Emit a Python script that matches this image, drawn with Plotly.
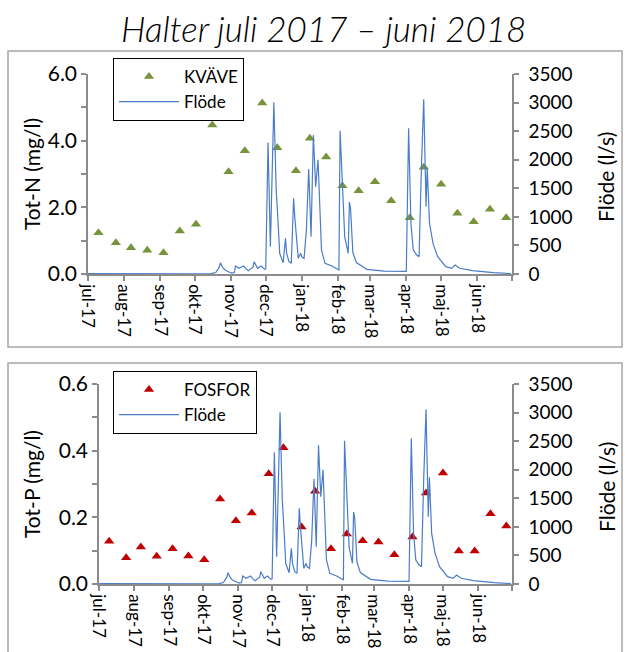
import plotly.graph_objects as go

# Provtagningsdatum (vattenprover)
sample_dates = ["2017-07-10", "2017-07-25", "2017-08-07", "2017-08-21", "2017-09-04",
                "2017-09-18", "2017-10-02", "2017-10-16", "2017-10-30", "2017-11-13",
                "2017-11-28", "2017-12-11", "2017-12-27", "2018-01-08", "2018-01-22",
                "2018-02-05", "2018-02-19", "2018-03-05", "2018-03-19", "2018-04-04",
                "2018-04-16", "2018-05-01", "2018-05-15", "2018-05-29", "2018-06-12",
                "2018-06-26"]

# Totalkväve (mg/l)
tot_n = [1.24, 0.94, 0.79, 0.71, 0.64, 1.29, 1.49, 4.47, 3.07, 3.70,
         5.13, 3.79, 3.10, 4.07, 3.51, 2.65, 2.50, 2.77, 2.20, 1.69,
         3.20, 2.69, 1.82, 1.57, 1.94, 1.69]

# Totalfosfor (mg/l)
tot_p = [0.128, 0.079, 0.111, 0.083, 0.106, 0.084, 0.073, 0.255, 0.190, 0.213,
         0.331, 0.409, 0.171, 0.278, 0.106, 0.150, 0.130, 0.126, 0.088, 0.141,
         0.273, 0.333, 0.099, 0.099, 0.211, 0.174]

# Vattenföring (l/s)
flow_dates = ["2017-07-01", "2017-07-15", "2017-08-01", "2017-09-01", "2017-10-01",
              "2017-10-15", "2017-10-19", "2017-10-22", "2017-10-23", "2017-10-25",
              "2017-10-27", "2017-10-30", "2017-11-02", "2017-11-04", "2017-11-05",
              "2017-11-08", "2017-11-12", "2017-11-14", "2017-11-16", "2017-11-20",
              "2017-11-21", "2017-11-24", "2017-11-27", "2017-11-30", "2017-12-01",
              "2017-12-03", "2017-12-05", "2017-12-08", "2017-12-10", "2017-12-12",
              "2017-12-13", "2017-12-16", "2017-12-18", "2017-12-19", "2017-12-21",
              "2017-12-23", "2017-12-25", "2017-12-26", "2017-12-28", "2017-12-29",
              "2017-12-31", "2018-01-01", "2018-01-03", "2018-01-05", "2018-01-07",
              "2018-01-09", "2018-01-11", "2018-01-13", "2018-01-15", "2018-01-17",
              "2018-01-18", "2018-01-21", "2018-01-27", "2018-02-02", "2018-02-03",
              "2018-02-07", "2018-02-10", "2018-02-11", "2018-02-12", "2018-02-14",
              "2018-02-17", "2018-02-26", "2018-03-13", "2018-04-01", "2018-04-03",
              "2018-04-05", "2018-04-07", "2018-04-10", "2018-04-12", "2018-04-14",
              "2018-04-16", "2018-04-18", "2018-04-19", "2018-04-21", "2018-04-24",
              "2018-04-28", "2018-05-05", "2018-05-10", "2018-05-13", "2018-05-17",
              "2018-05-28", "2018-06-15", "2018-06-30"]
flow = [8, 6, 4, 3, 3,
        6, 25, 120, 198, 110,
        70, 40, 15, 25, 140,
        99, 140, 90, 58, 120,
        216, 99, 140, 81, 90,
        2300, 478, 3004, 1470, 770,
        362, 198, 624, 362, 216,
        187, 1324, 1003, 478, 274,
        362, 300, 274, 770, 1838,
        653, 2430, 1528, 2000, 700,
        420, 187, 140, 70, 2508,
        650, 362, 1260, 1150, 380,
        200, 82, 52, 45, 2549,
        886, 420, 332, 303, 1850,
        3057, 1178, 1867, 886, 536,
        303, 128, 99, 158, 100,
        58, 23, 8]

month_ticks = ["2017-07-01", "2017-08-01", "2017-09-01", "2017-10-01", "2017-11-01",
               "2017-12-01", "2018-01-01", "2018-02-01", "2018-03-01", "2018-04-01",
               "2018-05-01", "2018-06-01", "2018-07-01"]
month_labels = ["jul-17", "aug-17", "sep-17", "okt-17", "nov-17", "dec-17",
                "jan-18", "feb-18", "mar-18", "apr-18", "maj-18", "jun-18", ""]

n_ticks = [0, 1, 2, 3, 4, 5, 6]
n_labels = ["0.0", "", "2.0", "", "4.0", "", "6.0"]
p_ticks = [0, 0.1, 0.2, 0.3, 0.4, 0.5, 0.6]
p_labels = ["0.0", "", "0.2", "", "0.4", "", "0.6"]
q_ticks = [0, 500, 1000, 1500, 2000, 2500, 3000, 3500]

W, H = 625, 652
FONT = "Lato"
AXIS_GREY = "#8c8c8c"
FLOW_BLUE = "#4a7cc8"


def px(x):
    return x / W


def py(y):
    return 1 - y / H


fig = go.Figure()

fig.add_trace(go.Scatter(x=sample_dates, y=tot_n, name="KVÄVE", mode="markers",
                         marker=dict(symbol="triangle-up", size=9, color="#77933C"),
                         xaxis="x", yaxis="y", legend="legend"))
fig.add_trace(go.Scatter(x=flow_dates, y=flow, name="Flöde", mode="lines",
                         line=dict(color=FLOW_BLUE, width=1.2),
                         xaxis="x", yaxis="y2", legend="legend"))
fig.add_trace(go.Scatter(x=sample_dates, y=tot_p, name="FOSFOR", mode="markers",
                         marker=dict(symbol="triangle-up", size=9, color="#C00000"),
                         xaxis="x2", yaxis="y3", legend="legend2"))
fig.add_trace(go.Scatter(x=flow_dates, y=flow, name="Flöde", mode="lines",
                         line=dict(color=FLOW_BLUE, width=1.2),
                         xaxis="x2", yaxis="y4", legend="legend2"))


def common(size):
    return dict(ticks="outside", ticklen=5, tickwidth=1.5, tickcolor=AXIS_GREY,
                showline=True, linecolor=AXIS_GREY, linewidth=1.5,
                showgrid=False, zeroline=False, automargin=False,
                tickfont=dict(family=FONT, size=size, color="black"))


def xaxis_cfg(domain, anchor):
    return dict(domain=domain, anchor=anchor, type="date",
                range=["2017-07-01", "2018-07-01"],
                tickmode="array", tickvals=month_ticks, ticktext=month_labels,
                tickangle=90, **common(17))


def yleft_cfg(domain, anchor, rng, vals, labels):
    return dict(domain=domain, anchor=anchor, range=rng,
                tickmode="array", tickvals=vals, ticktext=labels, **common(21))


def yright_cfg(overlay, anchor):
    return dict(overlaying=overlay, side="right", anchor=anchor, range=[0, 3500],
                tickmode="array", tickvals=q_ticks, ticklabelstandoff=6,
                **common(19))


top_y = [py(274), py(74)]
bot_y = [py(584), py(384)]

legend_cfg = dict(xanchor="left", yanchor="top", bgcolor="white",
                  bordercolor="black", borderwidth=1,
                  font=dict(family=FONT, size=17, color="black"),
                  itemwidth=60, tracegroupgap=0, entrywidth=130)

fig.update_layout(
    width=W, height=H,
    margin=dict(l=0, r=0, t=0, b=0, autoexpand=False),
    paper_bgcolor="white", plot_bgcolor="white",
    font=dict(family=FONT, size=19, color="black"),
    showlegend=True,
    xaxis=xaxis_cfg([px(88), px(512)], "y"),
    yaxis=yleft_cfg(top_y, "x", [0, 6], n_ticks, n_labels),
    yaxis2=yright_cfg("y", "x"),
    xaxis2=xaxis_cfg([px(99), px(512)], "y3"),
    yaxis3=yleft_cfg(bot_y, "x2", [0, 0.6], p_ticks, p_labels),
    yaxis4=yright_cfg("y3", "x2"),
    legend=dict(x=px(113), y=py(58), **legend_cfg),
    legend2=dict(x=px(113), y=py(371), **legend_cfg),
)

# Ramar runt de två diagrammen
frame = dict(type="rect", xref="paper", yref="paper",
             line=dict(color="#a6a6a6", width=1.5), fillcolor="rgba(0,0,0,0)",
             layer="below")
fig.add_shape(x0=px(8), x1=px(622), y0=py(347), y1=py(51), **frame)
fig.add_shape(x0=px(8), x1=px(622), y0=py(665), y1=py(363), **frame)

annotations = [
    dict(text="Halter juli 2017 – juni 2018", x=px(323), y=py(28),
         font=dict(family=FONT, size=35, style="italic", weight=300, color="black")),
    dict(text="Tot-N (mg/l)", x=px(31), y=py(174), textangle=-90,
         font=dict(family=FONT, size=21, color="black")),
    dict(text="Flöde (l/s)", x=px(605), y=py(177), textangle=-90,
         font=dict(family=FONT, size=21, color="black")),
    dict(text="Tot-P (mg/l)", x=px(31), y=py(484), textangle=-90,
         font=dict(family=FONT, size=21, color="black")),
    dict(text="Flöde (l/s)", x=px(606), y=py(487), textangle=-90,
         font=dict(family=FONT, size=21, color="black")),
]
for a in annotations:
    fig.add_annotation(xref="paper", yref="paper", showarrow=False,
                       xanchor="center", yanchor="middle", **a)

fig.write_html("out.html")
